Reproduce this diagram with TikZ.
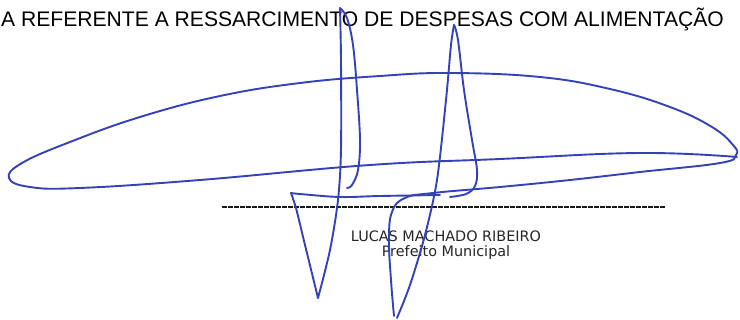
\documentclass[tikz,border=0pt]{standalone}
\usepackage{fontspec}
\setmainfont{Liberation Sans}
\newfontfamily\namefont{DejaVu Sans}
\usepackage{xcolor}
\definecolor{ink}{RGB}{52,66,186}
\definecolor{rule}{RGB}{25,25,25}
\usetikzlibrary{positioning}

\begin{document}
\begin{tikzpicture}[x=1pt,y=-1pt,
    pen/.style={draw=ink, line width=1.9pt, line cap=round, line join=round},
    title/.style={inner sep=0pt, anchor=base west, font=\fontsize{21.1}{23}\selectfont},
    signer/.style={inner sep=0pt, anchor=base, font=\namefont\fontsize{14.4}{16}\selectfont, text=black!85}]
    \fill[white] (0,0) rectangle (740,320);
    \useasboundingbox (0,0) rectangle (740,320);

    \node[title] (heading) at (1,27) {A REFERENTE A RESSARCIMENTO DE DESPESAS COM ALIMENTAÇÃO};

    \coordinate (lineL) at (222,207);
    \coordinate (lineR) at (665,207);
    \draw[rule, line width=2.2pt, dash pattern=on 5pt off 1pt] (lineL) -- (lineR);

    \node[signer] (name) at (446,242) {LUCAS MACHADO RIBEIRO};
    \node[signer, below=14.5pt of name.base, anchor=base] (office) {Prefeito Municipal};

    \begin{scope}[pen]
        \draw plot[smooth, tension=0.7] coordinates {
            (737,157) (640,153) (500,159) (370,165) (200,180) (80,188)
            (30,187) (9,178) (22,163) (70,142) (140,117) (220,96) (300,83)
            (380,76) (450,73) (540,77) (610,89) (670,107) (712,127) (733,145)
            (736,155) (720,163) (640,172) (570,180) (500,187) (433,193)
            (405,198) (392,212) (389,240) (391,280) (394,316)};
        \draw plot[smooth, tension=0.6] coordinates {
            (440,195) (380,196) (340,197) (300,194) (291,193)};
        \draw plot[smooth, tension=0.4] coordinates {
            (291,193) (296,208) (305,245) (318,298)};
        \draw plot[smooth, tension=0.5] coordinates {
            (318,298) (330,250) (338,200) (341,150) (341,60) (340,8)};
        \draw plot[smooth, tension=0.6] coordinates {
            (340,8) (347,18) (353,45) (357,90) (360,140) (358,170) (352,185) (347,188)};
        \draw plot[smooth, tension=0.5] coordinates {
            (397,318) (410,285) (425,235) (437,180) (446,100) (451,45) (454,25)};
        \draw plot[smooth, tension=0.6] coordinates {
            (454,25) (458,40) (464,90) (472,140) (477,170) (475,186) (466,194) (450,197)};
    \end{scope}
\end{tikzpicture}
\end{document}
